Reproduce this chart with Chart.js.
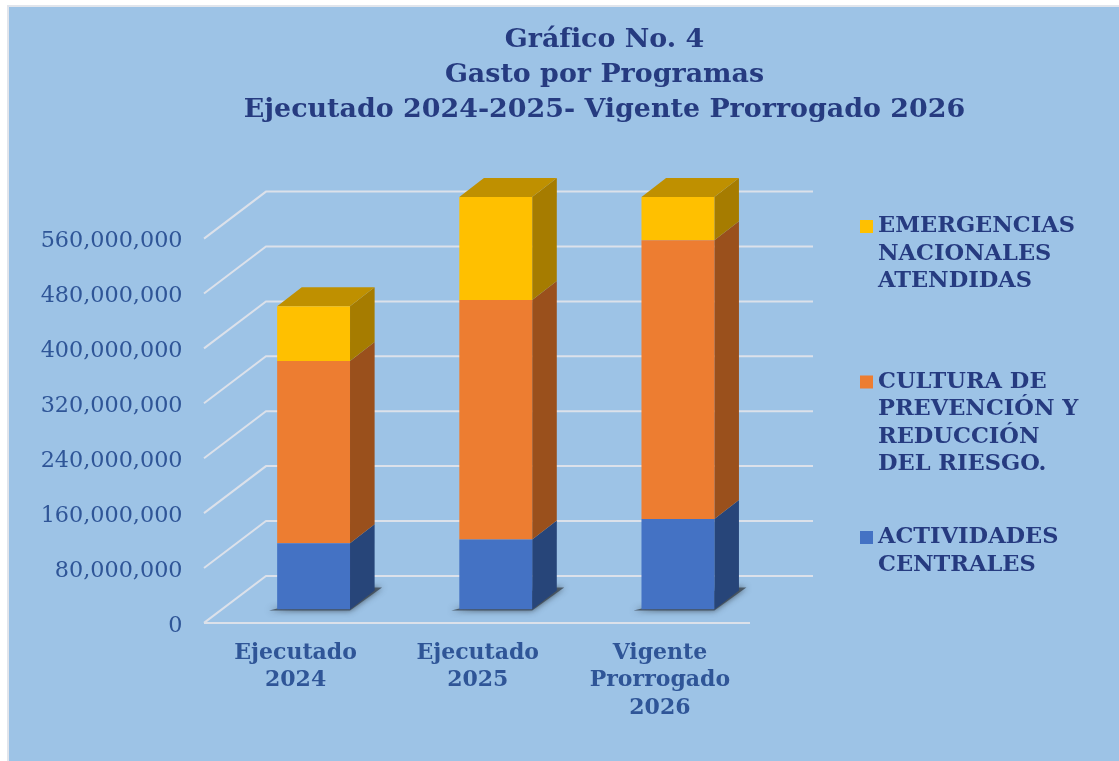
<!DOCTYPE html>
<html lang="es">
<head>
<meta charset="utf-8">
<title>Gasto por Programas</title>
<script src="https://cdn.jsdelivr.net/npm/chart.js@4"></script>
<style>
html,body{margin:0;padding:0;background:#fff;overflow:hidden}
#panel{position:absolute;left:7px;top:5px;width:1112px;height:756px;box-sizing:border-box;background:#9DC3E6;border-left:2px solid #E1E5EC;border-top:2px solid #E1E5EC}
#wrap{position:absolute;left:0;top:0;width:1119px;height:761px}
</style>
</head>
<body>
<div id="panel"></div>
<div id="wrap"><canvas id="c" width="1119" height="761"></canvas></div>
<script>
const categories = [["Ejecutado","2024"],["Ejecutado","2025"],["Vigente","Prorrogado","2026"]];
const actividades = [96500000,102000000,132000000];
const cultura = [265500000,349000000,406000000];
const emergencias = [80000000,150000000,63000000];
const labelActividades = ["ACTIVIDADES","CENTRALES"];
const labelCultura = ["CULTURA DE","PREVENCIÓN Y","REDUCCIÓN","DEL RIESGO."];
const labelEmergencias = ["EMERGENCIAS","NACIONALES","ATENDIDAS"];
const titleLines = ["Gráfico No. 4","Gasto por Programas","Ejecutado 2024-2025- Vigente Prorrogado 2026"];
const tickStep = 80000000;
const axisMax = 640000000;
const lastTick = 560000000;

const FONT = '"DejaVu Serif",serif';
const faces = [
  {front:'#4472C4',side:'#274579',top:'#2F5597'},
  {front:'#ED7D31',side:'#9A501C',top:'#C55A11'},
  {front:'#FFC000',side:'#A67C00',top:'#BF9000'}
];
const DX=24.6, DY=19;

const titlePlace = {
  id:'titlePlace',
  afterLayout(chart){ if(chart.titleBlock){chart.titleBlock.left=90;chart.titleBlock.right=1119;} }
};

const walls = {
  id:'walls',
  beforeDatasetsDraw(chart){
    const {ctx,scales:{y}}=chart;
    ctx.save();
    ctx.strokeStyle='#DCE1EA'; ctx.lineWidth=2; ctx.lineCap='butt';
    const wallDy=-33.6, frontDy=13.4;
    y.ticks.filter(t=>t.value<=lastTick).forEach(t=>{
      const p=y.getPixelForValue(t.value);
      ctx.beginPath();
      ctx.moveTo(204,p+frontDy);
      ctx.lineTo(266,p+wallDy);
      ctx.lineTo(813,p+wallDy);
      ctx.stroke();
    });
    const p0=y.getPixelForValue(0);
    ctx.beginPath();ctx.moveTo(204,p0+frontDy);ctx.lineTo(750,p0+frontDy);ctx.stroke();
    ctx.restore();

    // floor shadows
    const bars=chart.getDatasetMeta(0).data;
    bars.forEach(b=>{
      const x0=b.x-b.width/2,x1=b.x+b.width/2,yb=b.base;
      ctx.save();
      ctx.shadowColor='rgba(40,50,60,0.9)';ctx.shadowBlur=6;
      ctx.fillStyle='rgba(60,70,80,0.8)';
      ctx.beginPath();
      ctx.moveTo(x0-8,yb+1);ctx.lineTo(x1,yb+1);ctx.lineTo(x1+32,yb-22);ctx.lineTo(x1+14,yb-22);ctx.closePath();
      ctx.fill();
      ctx.restore();
    });

    // side and top faces
    ctx.save();
    chart.data.datasets.forEach((ds,i)=>{
      chart.getDatasetMeta(i).data.forEach(b=>{
        const x1=b.x+b.width/2;
        ctx.fillStyle=faces[i].side;
        ctx.beginPath();
        ctx.moveTo(x1,b.y);ctx.lineTo(x1+DX,b.y-DY);ctx.lineTo(x1+DX,b.base-DY);ctx.lineTo(x1,b.base);ctx.closePath();
        ctx.fill();
      });
    });
    const topIdx=chart.data.datasets.length-1;
    chart.getDatasetMeta(topIdx).data.forEach(b=>{
      const x0=b.x-b.width/2,x1=b.x+b.width/2;
      ctx.fillStyle=faces[topIdx].top;
      ctx.beginPath();
      ctx.moveTo(x0,b.y);ctx.lineTo(x0+DX,b.y-DY);ctx.lineTo(x1+DX,b.y-DY);ctx.lineTo(x1,b.y);ctx.closePath();
      ctx.fill();
    });
    ctx.restore();
  }
};

const sideLegend = {
  id:'sideLegend',
  afterDraw(chart){
    const {ctx}=chart;
    const order=[{i:2,y:226.5},{i:1,y:382},{i:0,y:537.5}];
    ctx.save();
    ctx.textBaseline='middle';ctx.textAlign='left';
    ctx.font='bold 22.5px '+FONT;
    order.forEach(o=>{
      const ds=chart.data.datasets[o.i];
      ctx.fillStyle=ds.backgroundColor;
      ctx.fillRect(860,o.y-6.5,13,13);
      ctx.fillStyle='#263B80';
      ds.legendLines.forEach((t,k)=>ctx.fillText(t,878,o.y+k*27.4));
    });
    ctx.restore();
  }
};

new Chart(document.getElementById('c'),{
  type:'bar',
  data:{
    labels:categories,
    datasets:[
      {label:labelActividades.join(' '),legendLines:labelActividades,data:actividades,backgroundColor:faces[0].front},
      {label:labelCultura.join(' '),legendLines:labelCultura,data:cultura,backgroundColor:faces[1].front},
      {label:labelEmergencias.join(' '),legendLines:labelEmergencias,data:emergencias,backgroundColor:faces[2].front}
    ]
  },
  plugins:[titlePlace,walls,sideLegend],
  options:{
    responsive:false,animation:false,
    categoryPercentage:1,barPercentage:0.4,
    layout:{padding:{left:0,right:350,top:0,bottom:0}},
    plugins:{
      legend:{display:false},
      tooltip:{enabled:false},
      title:{display:true,text:titleLines,color:'#263B80',
        font:{family:FONT,weight:'bold',size:26.9,lineHeight:35/26.9},
        padding:{top:23,bottom:42.3}}
    },
    scales:{
      x:{stacked:true,
        grid:{display:false},border:{display:false},
        afterFit(s){s.height=151.5;},
        ticks:{color:'#2F5597',font:{family:FONT,weight:'bold',size:22,lineHeight:27.5/22},
          padding:22,labelOffset:-18,maxRotation:0,autoSkip:false}},
      y:{stacked:true,min:0,max:axisMax,
        grid:{display:false,drawTicks:false},border:{display:false},
        afterFit(s){s.width=222.5;},
        ticks:{stepSize:tickStep,color:'#2F5597',font:{family:FONT,size:22.3},padding:40,labelOffset:16.4,
          callback(v){return v>lastTick?'':v.toLocaleString('en-US');}}}
    }
  }
});
</script>
</body>
</html>
